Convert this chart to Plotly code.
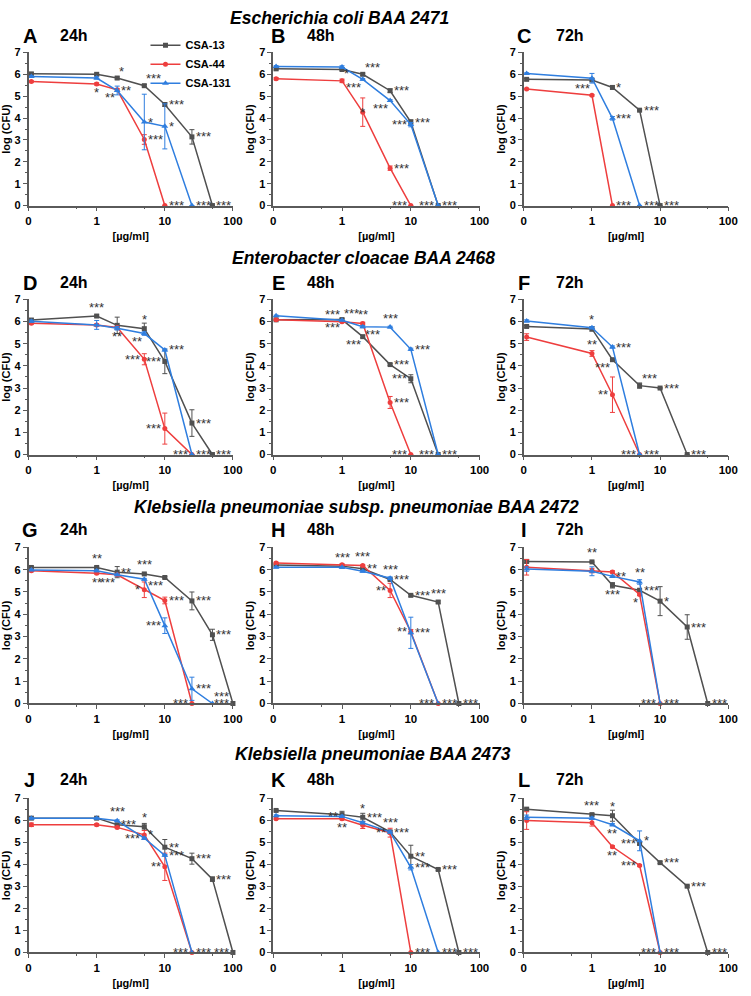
import math
import plotly.graph_objects as go

# ---------------- data ----------------
DOSES = [0, 1, 2, 5, 10, 25, 50, 100]          # µg/ml
ZERO_POS = 0.11                                 # where dose "0" sits on the log axis
X_TICKVALS = [0.1, 1, 10, 100]
X_TICKTEXT = ["0", "1", "10", "100"]
Y_TICKVALS = [0, 1, 2, 3, 4, 5, 6, 7]
SERIES = ["CSA-13", "CSA-44", "CSA-131"]
COLORS = ["#505050", "#EE3E3E", "#2F7EDF"]
SYMBOLS = ["square", "circle", "triangle-up"]

SPECIES = ["Escherichia coli BAA 2471",
           "Enterobacter cloacae BAA 2468",
           "Klebsiella pneumoniae subsp. pneumoniae BAA 2472",
           "Klebsiella pneumoniae BAA 2473"]
LETTERS = list("ABCDEFGHIJKL")
TIMES = ["24h", "48h", "72h"]

# log(CFU) per panel (values follow DOSES order) and SD
A_13 = [6.02, 6.00, 5.83, 5.48, 4.62, 3.14, 0.00]
A_13e = [0.05, 0.05, 0.05, 0.05, 0.08, 0.33, 0]
A_44 = [5.67, 5.56, 5.29, 3.02, 0.00]
A_44e = [0.03, 0.05, 0.05, 0.22, 0]
A_131 = [5.90, 5.83, 5.26, 3.82, 3.62, 0.00]
A_131e = [0.03, 0.05, 0.20, 1.27, 1.03, 0]

B_13 = [6.25, 6.22, 6.00, 5.25, 3.82, 0.00]
B_13e = [0.05, 0.05, 0.05, 0.08, 0.10, 0]
B_44 = [5.80, 5.70, 4.27, 1.71, 0.00]
B_44e = [0.05, 0.08, 0.65, 0.10, 0]
B_131 = [6.36, 6.33, 5.77, 4.80, 3.70, 0.00]
B_131e = [0.04, 0.06, 0.04, 0.04, 0.10, 0]

C_13 = [5.77, 5.74, 5.40, 4.36, 0.00]
C_13e = [0.04, 0.05, 0.08, 0.03, 0]
C_44 = [5.33, 5.04, 0.00]
C_44e = [0.03, 0.04, 0]
C_131 = [6.04, 5.82, 3.99, 0.00]
C_131e = [0.03, 0.22, 0.08, 0]

D_13 = [6.07, 6.25, 5.83, 5.68, 4.20, 1.42, 0.00]
D_13e = [0.05, 0.05, 0.37, 0.25, 0.55, 0.60, 0]
D_44 = [5.92, 5.85, 5.73, 4.30, 1.17, 0.00]
D_44e = [0.04, 0.05, 0.05, 0.25, 0.70, 0]
D_131 = [6.02, 5.85, 5.70, 5.46, 4.72, 0.00]
D_131e = [0.05, 0.20, 0.08, 0.08, 0.05, 0]

E_13 = [6.08, 6.09, 5.32, 4.06, 3.42, 0.00]
E_13e = [0.03, 0.05, 0.05, 0.04, 0.18, 0]
E_44 = [6.08, 5.99, 5.91, 2.35, 0.00]
E_44e = [0.03, 0.04, 0.06, 0.27, 0]
E_131 = [6.26, 6.06, 5.77, 5.75, 4.75, 0.00]
E_131e = [0.03, 0.03, 0.05, 0.04, 0.05, 0]

F_13 = [5.78, 5.67, 4.28, 3.11, 3.00, 0.00]
F_13e = [0.04, 0.10, 0.04, 0.12, 0.03, 0]
F_44 = [5.30, 4.56, 2.70, 0.00]
F_44e = [0.15, 0.13, 0.80, 0]
F_131 = [6.03, 5.72, 4.85, 0.00]
F_131e = [0.05, 0.05, 0.05, 0]

G_13 = [6.10, 6.10, 5.89, 5.81, 5.65, 4.60, 3.08, 0.00]
G_13e = [0.04, 0.05, 0.25, 0.04, 0.04, 0.40, 0.25, 0]
G_44 = [5.95, 5.84, 5.77, 5.10, 4.62, 0.00]
G_44e = [0.04, 0.04, 0.05, 0.35, 0.15, 0]
G_131 = [5.99, 5.95, 5.77, 5.57, 3.49, 0.66, 0.00]
G_131e = [0.03, 0.04, 0.04, 0.04, 0.35, 0.52, 0]

H_13 = [6.21, 6.16, 6.04, 5.56, 4.85, 4.55, 0.00]
H_13e = [0.03, 0.03, 0.03, 0.05, 0.04, 0.05, 0]
H_44 = [6.30, 6.22, 6.19, 5.07, 3.22, 0.00]
H_44e = [0.04, 0.03, 0.03, 0.32, 0.10, 0]
H_131 = [6.11, 6.11, 5.93, 5.62, 3.17, 0.00]
H_131e = [0.03, 0.03, 0.04, 0.06, 0.70, 0]

I_13 = [6.37, 6.35, 5.30, 5.08, 4.59, 3.43, 0.00]
I_13e = [0.06, 0.03, 0.12, 0.05, 0.65, 0.55, 0]
I_44 = [6.11, 5.96, 5.90, 4.89, 0.00]
I_44e = [0.35, 0.10, 0.05, 0.05, 0]
I_131 = [6.03, 5.93, 5.70, 5.45, 0.00]
I_131e = [0.10, 0.20, 0.05, 0.10, 0]

J_13 = [6.10, 6.10, 5.80, 5.71, 4.78, 4.26, 3.33, 0.00]
J_13e = [0.04, 0.05, 0.05, 0.15, 0.35, 0.25, 0.10, 0]
J_44 = [5.80, 5.80, 5.68, 5.34, 3.89, 0.00]
J_44e = [0.08, 0.05, 0.05, 0.20, 0.62, 0]
J_131 = [6.10, 6.10, 5.98, 5.19, 4.41, 0.00]
J_131e = [0.03, 0.03, 0.04, 0.04, 0.04, 0]

K_13 = [6.45, 6.26, 6.14, 5.48, 4.37, 3.77, 0.00]
K_13e = [0.03, 0.15, 0.18, 0.05, 0.50, 0.04, 0]
K_44 = [6.07, 6.07, 5.78, 5.44, 0.00]
K_44e = [0.03, 0.05, 0.15, 0.20, 0]
K_131 = [6.21, 6.18, 5.89, 5.47, 3.87, 0.00]
K_131e = [0.04, 0.05, 0.05, 0.05, 0.12, 0]

L_13 = [6.51, 6.26, 6.21, 4.95, 4.08, 3.01, 0.00]
L_13e = [0.04, 0.05, 0.25, 0.05, 0.04, 0.04, 0]
L_44 = [5.99, 5.89, 4.80, 3.95, 0.00]
L_44e = [0.40, 0.15, 0.05, 0.04, 0]
L_131 = [6.14, 6.10, 5.80, 5.07, 0.00]
L_131e = [0.10, 0.05, 0.05, 0.45, 0]

# significance marks: (series index, dose, text, placement)
A_STARS = [(0, 2, "*", "ar"), (0, 5, "***", "ar"), (0, 10, "***", "r"), (0, 25, "***", "r"), (0, 50, "***", "r"),
           (1, 1, "*", "b"), (1, 2, "**", "bl"), (1, 5, "***", "r"), (1, 10, "***", "r"),
           (2, 2, "**", "r"), (2, 5, "*", "r"), (2, 10, "*", "r"), (2, 25, "***", "r")]
B_STARS = [(0, 2, "***", "ar"), (0, 5, "***", "r"), (0, 10, "***", "r"), (0, 25, "***", "r"),
           (1, 1, "*", "ar"), (1, 2, "*", "c"), (1, 5, "***", "r"), (1, 10, "***", "l"),
           (2, 2, "***", "bl"), (2, 5, "***", "bl"), (2, 10, "***", "l"), (2, 25, "***", "l")]
C_STARS = [(0, 2, "*", "r"), (0, 5, "***", "r"), (0, 10, "***", "r"),
           (1, 1, "***", "al"), (1, 2, "***", "r"),
           (2, 2, "***", "r"), (2, 5, "***", "r")]
D_STARS = [(0, 1, "***", "a"), (0, 5, "*", "a"), (0, 10, "***", "l"), (0, 25, "***", "r"), (0, 50, "***", "r"),
           (1, 2, "**", "b"), (1, 5, "***", "l"), (1, 10, "***", "l"), (1, 25, "***", "l"),
           (2, 5, "**", "bl"), (2, 10, "***", "r"), (2, 25, "***", "r")]
E_STARS = [(1, 1, "***", "al"), (2, 1, "***", "ar"), (0, 1, "***", "bl"), (0, 2, "***", "bl"),
           (1, 2, "**", "a"), (2, 2, "***", "br"), (2, 5, "***", "a"), (2, 10, "***", "r"),
           (0, 5, "***", "r"), (0, 10, "***", "l"), (1, 5, "***", "r"), (1, 10, "***", "l"),
           (0, 25, "***", "l"), (2, 25, "***", "r")]
F_STARS = [(0, 1, "*", "a"), (2, 2, "***", "r"), (1, 1, "**", "a"), (0, 2, "***", "bl"),
           (0, 5, "***", "ar"), (0, 10, "***", "r"), (1, 2, "**", "l"), (1, 5, "***", "l"),
           (2, 5, "***", "r"), (0, 25, "***", "r")]
G_STARS = [(0, 1, "**", "a"), (1, 1, "**", "b"), (0, 2, "**", "r"), (1, 2, "***", "bl"),
           (0, 5, "***", "a"), (0, 10, "***", "bl"), (1, 5, "*", "l"), (1, 10, "***", "r"),
           (0, 25, "***", "r"), (2, 10, "***", "l"), (0, 50, "***", "r"), (2, 25, "***", "r"),
           (1, 25, "***", "l"), (2, 50, "***", "ar"), (0, 100, "***", "l")]
H_STARS = [(0, 1, "***", "a"), (1, 2, "***", "a"), (0, 2, "**", "r"), (2, 5, "***", "a"),
           (0, 5, "***", "r"), (1, 5, "**", "l"), (0, 10, "***", "r"), (0, 25, "***", "a"),
           (1, 10, "**", "l"), (2, 10, "***", "r"), (1, 25, "***", "l"), (2, 25, "***", "r"),
           (0, 50, "***", "r")]
I_STARS = [(0, 1, "**", "a"), (2, 2, "**", "r"), (2, 5, "**", "a"), (0, 2, "***", "b"),
           (0, 5, "***", "r"), (1, 5, "*", "bl"), (0, 10, "*", "r"), (0, 25, "***", "r"),
           (1, 10, "***", "l"), (2, 10, "***", "r"), (0, 50, "***", "r")]
J_STARS = [(2, 2, "***", "a"), (0, 2, "***", "r"), (0, 5, "*", "a"), (1, 5, "*", "r"),
           (2, 5, "***", "l"), (0, 10, "**", "r"), (2, 10, "***", "r"), (0, 25, "***", "r"),
           (1, 10, "**", "l"), (0, 50, "***", "r"), (1, 25, "***", "l"), (2, 25, "***", "r"),
           (0, 100, "***", "l")]
K_STARS = [(2, 1, "**", "l"), (1, 1, "**", "b"), (0, 2, "*", "a"), (0, 2, "***", "r"),
           (0, 5, "***", "a"), (2, 5, "***", "r"), (1, 5, "**", "l"), (0, 10, "**", "r"),
           (2, 10, "***", "r"), (0, 25, "***", "r"), (1, 10, "***", "r"), (2, 25, "***", "r"),
           (0, 50, "***", "r")]
L_STARS = [(0, 1, "***", "a"), (0, 2, "*", "a"), (2, 2, "**", "b"), (2, 5, "*", "r"),
           (0, 5, "***", "l"), (1, 2, "**", "b"), (0, 10, "***", "r"), (1, 5, "***", "l"),
           (0, 25, "***", "r"), (1, 10, "***", "l"), (2, 10, "***", "r"), (0, 50, "***", "r")]

PANELS = {
    "A": ([A_13, A_44, A_131], [A_13e, A_44e, A_131e], A_STARS),
    "B": ([B_13, B_44, B_131], [B_13e, B_44e, B_131e], B_STARS),
    "C": ([C_13, C_44, C_131], [C_13e, C_44e, C_131e], C_STARS),
    "D": ([D_13, D_44, D_131], [D_13e, D_44e, D_131e], D_STARS),
    "E": ([E_13, E_44, E_131], [E_13e, E_44e, E_131e], E_STARS),
    "F": ([F_13, F_44, F_131], [F_13e, F_44e, F_131e], F_STARS),
    "G": ([G_13, G_44, G_131], [G_13e, G_44e, G_131e], G_STARS),
    "H": ([H_13, H_44, H_131], [H_13e, H_44e, H_131e], H_STARS),
    "I": ([I_13, I_44, I_131], [I_13e, I_44e, I_131e], I_STARS),
    "J": ([J_13, J_44, J_131], [J_13e, J_44e, J_131e], J_STARS),
    "K": ([K_13, K_44, K_131], [K_13e, K_44e, K_131e], K_STARS),
    "L": ([L_13, L_44, L_131], [L_13e, L_44e, L_131e], L_STARS),
}

# ---------------- layout geometry (page pixels) ----------------
W, H = 751, 996
COLS_PX = [(26, 234), (275, 485), (530, 738)]
ROWS_PX = [(47, 202), (297, 454), (548, 706), (802, 958)]
# (x centre, y, y-anchor) of the species headings
TITLE_POS = [(342, 0, "top"), (367, 255, "middle"), (360, 507, "middle"), (377, 757, "middle")]
LETTER_X = [27, 280, 530]
TIME_X = [72, 324, 577]
LETTER_Y = [30, 280, 530, 783]
LEGEND_PX = (145, 25)


def px(xp):
    return xp / W


def py(yp):
    return 1 - yp / H


FONT = "Liberation Sans, Arial, sans-serif"
AXIS_COLOR = "#5a5a5a"
STAR_COLOR = "#333333"

PLACE = {
    "r": ("left", 2, 0), "l": ("right", -2, 0),
    "a": ("center", 0, 9), "b": ("center", 0, -9),
    "ar": ("left", 0, 7), "al": ("right", 0, 7),
    "br": ("left", 0, -8), "bl": ("right", 0, -8),
    "c": ("center", 0, 0),
}


def xpos(d):
    return ZERO_POS if d == 0 else d


fig = go.Figure()
annotations = []
layout = {}

for p, letter in enumerate(LETTERS):
    r, c = divmod(p, 3)
    n = p + 1
    xa = "x" if n == 1 else f"x{n}"
    ya = "y" if n == 1 else f"y{n}"
    values, errors, stars = PANELS[letter]

    for s in range(3):
        vals = values[s]
        xs = [xpos(d) for d in DOSES[:len(vals)]]
        fig.add_trace(go.Scatter(
            x=xs, y=vals, mode="lines+markers", name=SERIES[s],
            legendgroup=SERIES[s], showlegend=(p == 0),
            line=dict(color=COLORS[s], width=1.5),
            marker=dict(symbol=SYMBOLS[s], size=5 if s < 2 else 6, color=COLORS[s]),
            error_y=dict(type="data", array=errors[s], color=COLORS[s], thickness=1, width=2.5),
            cliponaxis=False, xaxis=xa, yaxis=ya,
        ))

    for (s, d, txt, pos) in stars:
        vals = values[s]
        yv = vals[DOSES.index(d)]
        anc, xs_, ys_ = PLACE[pos]
        annotations.append(dict(
            x=math.log10(xpos(d)), y=yv, xref=xa, yref=ya, text=txt, showarrow=False,
            xanchor=anc, yanchor="middle", xshift=xs_, yshift=ys_,
            font=dict(family=FONT, size=13, color=STAR_COLOR),
        ))

    x0, x1 = COLS_PX[c]
    top, bot = ROWS_PX[r]
    layout["xaxis" if n == 1 else f"xaxis{n}"] = dict(
        domain=[px(x0), px(x1)], anchor=ya, type="log", range=[-1, 2],
        tickvals=X_TICKVALS, ticktext=X_TICKTEXT, ticks="outside", ticklen=4,
        tickwidth=1.2, tickcolor=AXIS_COLOR,
        minor=dict(tickvals=[0.5, 5, 50], ticks="outside", ticklen=2, tickcolor=AXIS_COLOR),
        showline=True, linecolor=AXIS_COLOR, linewidth=1.5, showgrid=False, zeroline=False,
        tickfont=dict(family=FONT, size=11.5, color="black", weight="bold"),
        title=dict(text="<b>[µg/ml]</b>", font=dict(family=FONT, size=11, color="black"), standoff=6),
    )
    layout["yaxis" if n == 1 else f"yaxis{n}"] = dict(
        domain=[py(bot), py(top)], anchor=xa, range=[0, 7],
        tickvals=Y_TICKVALS, ticks="outside", ticklen=4, tickwidth=1.2, tickcolor=AXIS_COLOR,
        minor=dict(dtick=0.5, ticks="outside", ticklen=2, tickcolor=AXIS_COLOR),
        showline=True, linecolor=AXIS_COLOR, linewidth=1.5, showgrid=False, zeroline=False,
        tickfont=dict(family=FONT, size=11, color="black", weight="bold"),
        title=dict(text="<b>log (CFU)</b>", font=dict(family=FONT, size=11, color="black"), standoff=2),
    )

    annotations.append(dict(x=px(LETTER_X[c]), y=py(LETTER_Y[r]), xref="paper", yref="paper",
                            text=f"<b>{letter}</b>", showarrow=False, xanchor="center", yanchor="middle",
                            font=dict(family=FONT, size=20, color="black")))
    annotations.append(dict(x=px(TIME_X[c]), y=py(LETTER_Y[r]), xref="paper", yref="paper",
                            text=f"<b>{TIMES[c]}</b>", showarrow=False, xanchor="center", yanchor="middle",
                            font=dict(family=FONT, size=16, color="black")))

for r, name in enumerate(SPECIES):
    tx, ty, yanc = TITLE_POS[r]
    annotations.append(dict(x=px(tx), y=py(ty), xref="paper", yref="paper",
                            text=f"<b><i>{name}</i></b>", showarrow=False,
                            xanchor="center", yanchor=yanc,
                            font=dict(family=FONT, size=17.5, color="black")))

fig.update_layout(
    width=W, height=H, margin=dict(l=0, r=0, t=0, b=0),
    paper_bgcolor="white", plot_bgcolor="white",
    annotations=annotations,
    legend=dict(x=px(LEGEND_PX[0]), y=py(LEGEND_PX[1]), xanchor="left", yanchor="top",
                bgcolor="rgba(0,0,0,0)", tracegroupgap=0,
                font=dict(family=FONT, size=11, color="black", weight="bold")),
    **layout,
)

# remove the browser's default 8px body margin so the figure fills the window exactly
fig.write_html("out.html", config={"displayModeBar": False},
               post_script="document.body.style.margin='0px';")
